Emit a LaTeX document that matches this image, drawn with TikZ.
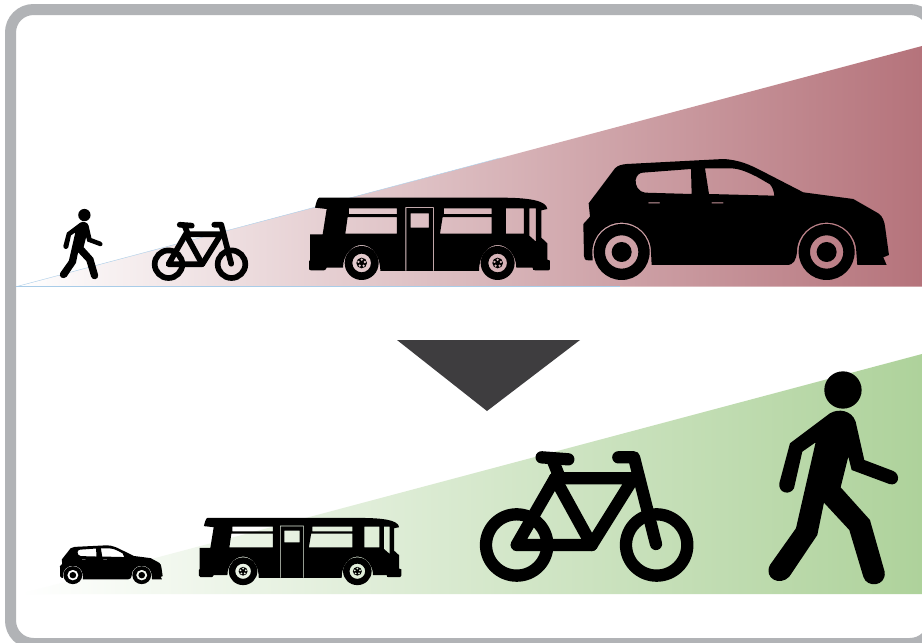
\documentclass[tikz,border=0pt]{standalone}
\definecolor{framegray}{HTML}{B1B3B6}
\definecolor{redend}{HTML}{B5737B}
\definecolor{greenend}{HTML}{AED29B}
\definecolor{wedgeline}{HTML}{A9CCE8}
\definecolor{arrowdark}{HTML}{3E3D3F}
\newcommand{\wheelpair}[2]{% centre x, y
  \fill[even odd rule,black] (#1,#2) circle[radius=84pt] (#1,#2) circle[radius=50pt];
  \fill[black] (#1,#2) circle[radius=30pt];}
\newcommand{\carshape}{%
  \fill[black,even odd rule]
    (42,318) -- (40,222) -- (60,200) -- (56,160) -- (135,55)
    .. controls (145,45) and (155,44) .. (170,42)
    -- (460,27) .. controls (510,30) and (540,45) .. (570,60)
    -- (700,127) -- (850,147) -- (925,190)
    .. controls (938,198) and (944,215) .. (946,235)
    -- (957,315) -- (940,322) -- (950,345) -- (862,345) -- (859,306)
    .. controls (859,257) and (819,218) .. (770,218)
    .. controls (721,218) and (681,257) .. (681,306)
    .. controls (678,330) and (672,345) .. (650,345)
    -- (245,345) -- (243,306)
    .. controls (243,257) and (204,218) .. (155,218)
    .. controls (106,218) and (67,257) .. (67,306)
    -- (68,331) -- (55,331) .. controls (45,331) and (42,326) .. (42,318) -- cycle
    (218,68) -- (363,57) -- (365,132) -- (225,128)
    .. controls (205,126) and (195,105) .. (197,90)
    .. controls (200,75) and (208,69) .. (218,68) -- cycle
    (405,55) -- (480,55) .. controls (510,55) and (535,68) .. (560,80)
    -- (600,103) .. controls (608,112) and (612,125) .. (613,137) -- (417,132) -- cycle
    (235,157) rectangle (270,160)
    (425,157) rectangle (460,160);
  \wheelpair{155}{306}
  \wheelpair{770}{306}}
\newcommand{\bushub}[2]{%
  \fill[even odd rule,black] (#1,#2) circle[radius=51pt] (#1,#2) circle[radius=28pt];
  \fill[black,even odd rule] (#1,#2) circle[radius=16pt]
    \foreach \a in {18,90,162,234,306} {(#1,#2) ++(\a:10pt) circle[radius=4.5pt]};}
\newcommand{\busshape}{%
  \fill[black,even odd rule]
    (58,38) -- (600,38) .. controls (680,38) and (740,45) .. (742,72)
    -- (724,76) -- (724,158) -- (742,175) -- (742,224) -- (750,227) -- (750,250)
    .. controls (750,254) and (748,256) .. (745,256)
    -- (706,256) .. controls (700,256) and (698,254) .. (698,248)
    -- (649,248) .. controls (649,210) and (622,180) .. (593,180)
    .. controls (564,180) and (537,210) .. (537,258)
    -- (241,258) .. controls (241,210) and (214,180) .. (185,180)
    .. controls (156,180) and (129,210) .. (129,248)
    -- (80,248) .. controls (78,252) and (76,256) .. (72,256)
    -- (33,256) .. controls (29,256) and (27,254) .. (27,250)
    -- (27,230) -- (30,225) -- (30,148) -- (68,148) -- (80,72) -- (45,68)
    .. controls (48,55) and (52,38) .. (58,38) -- cycle
    (147,70) rectangle (291,87)
    (143,96) -- (291,96) -- (291,146) -- (136,146) -- cycle
    (432,70) rectangle (575,87)
    (428,96) -- (575,96) -- (575,146) -- (420,146) -- cycle
    (618,70) rectangle (672,146)
    (688,70) -- (708,70) -- (708,170) -- (688,152) -- cycle
    (316,66) -- (402,66) -- (402,258) -- (399,258) -- (399,69) -- (319,69) -- (319,258) -- (316,258) -- cycle
    (332,85) rectangle (387,128);
  \bushub{185}{234}
  \bushub{593}{234}}
\newcommand{\bikeshape}[1]{%
  \begin{scope}[draw=black,line width=#1,line cap=round,line join=round]
    \draw (140,540) circle[radius=92pt];
    \draw (560,540) circle[radius=92pt];
    \draw (255,340) -- (490,340) -- (365,540) -- (140,540) -- cycle;
    \draw (255,340) -- (365,540);
    \draw (248,285) -- (270,340);
    \draw (215,277) -- (295,283);
    \draw (445,277) -- (492,277) -- (558,537);
  \end{scope}}
\newcommand{\walkershape}{%
  \fill[black] (1119,75) circle[radius=56pt];
  \fill[black]
    (1080,145) .. controls (1105,130) and (1145,135) .. (1157,170)
    -- (1183,285) -- (1270,318)
    .. controls (1295,330) and (1285,365) .. (1258,357)
    -- (1145,315) -- (1135,275) -- (1112,367) -- (1200,465) -- (1244,620)
    .. controls (1250,665) and (1190,670) .. (1180,635)
    -- (1138,495) -- (1062,413) -- (1042,510) -- (958,635)
    .. controls (930,665) and (880,640) .. (900,600)
    -- (978,490) -- (1037,232) -- (997,260) -- (972,370)
    .. controls (960,392) and (925,385) .. (928,355)
    -- (960,235) -- cycle;}
\begin{document}
\begin{tikzpicture}[x=1pt,y=-1pt]
\useasboundingbox (0,0) rectangle (922,643);
\clip (0,0) rectangle (922,643);
\fill[white] (0,0) rectangle (922,643);
\draw[framegray,line width=11pt,rounded corners=23pt] (10.5,9.5) rectangle (933,643.5);
% wedges
\shade[left color=white,right color=redend] (16,286.7) -- (922,46) -- (922,286.7) -- cycle;
\shade[left color=white,right color=greenend] (20,594) -- (922,354) -- (922,594) -- cycle;
\draw[wedgeline,line width=0.4pt] (16,286.7) -- (500,158);
\draw[wedgeline,line width=0.7pt] (16,286.7) -- (620,286.7);
% arrow
\fill[arrowdark] (397,340) -- (580,340) -- (487,411) -- cycle;
% top row
\begin{scope}[shift={(-38.7,206.8)},scale=0.11]\walkershape\end{scope}
\begin{scope}[shift={(147.5,183.2)},scale=0.15]\bikeshape{5.7pt}\end{scope}
\begin{scope}[shift={(300,185)},scale=0.3333]\busshape\end{scope}
\begin{scope}[shift={(570,150)},scale=0.3333]\carshape\end{scope}
% bottom row
\begin{scope}[shift={(55.5,542.4)},xscale=0.112,yscale=0.107]\carshape\end{scope}
\begin{scope}[shift={(191.3,507.6)},xscale=0.28,yscale=0.272]\busshape\end{scope}
\begin{scope}[shift={(470,365)},scale=0.3333]\bikeshape{12.3pt}\end{scope}
\begin{scope}[shift={(470,365)},scale=0.3333]\walkershape\end{scope}
\end{tikzpicture}
\end{document}
